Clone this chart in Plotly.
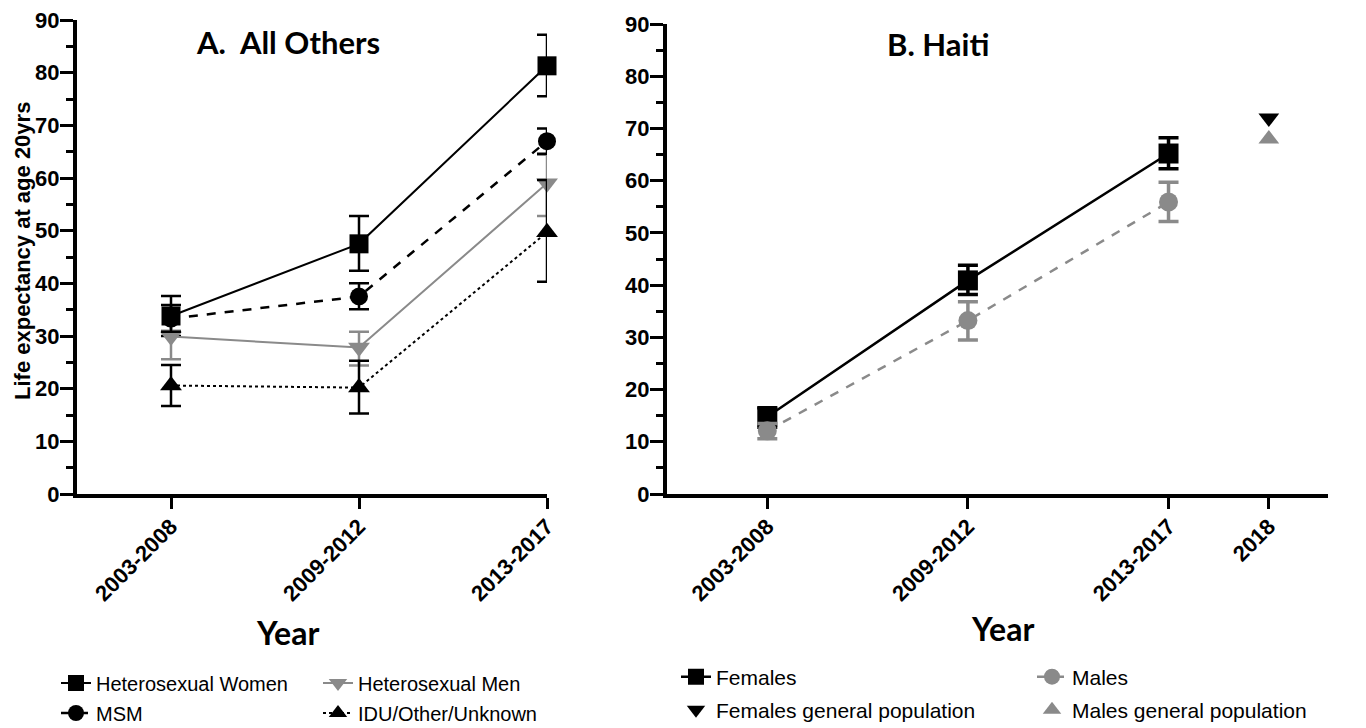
import plotly.graph_objects as go

# ---------------- data ----------------
periods_a = ["2003-2008", "2009-2012", "2013-2017"]
periods_b = ["2003-2008", "2009-2012", "2013-2017", "2018"]

hw = [33.8, 47.5, 81.3]
hw_lo = [30.0, 42.4, 75.5]
hw_hi = [37.6, 52.8, 87.2]

msm = [33.3, 37.5, 67.0]
msm_lo = [30.8, 35.1, 64.6]
msm_hi = [35.9, 40.0, 69.4]

hm = [29.9, 27.8, 59.0]
hm_lo = [25.6, 24.4, 52.8]
hm_hi = [31.0, 30.8, 64.4]

idu = [20.6, 20.2, 49.7]
idu_lo = [16.7, 15.3, 40.3]
idu_hi = [24.5, 25.3, 59.6]

fem = [14.8, 40.9, 65.2]
fem_lo = [12.8, 38.2, 62.3]
fem_hi = [16.5, 43.8, 68.2]

mal = [12.1, 33.2, 55.9]
mal_lo = [10.6, 29.5, 52.2]
mal_hi = [13.5, 36.8, 59.7]

fem_gen_2018 = [72.0]
mal_gen_2018 = [68.0]

# ---------------- geometry helpers ----------------
OFF = 8                      # page body margin of the html page
W, H = 1366 - OFF, 728 - OFF  # figure size


def px(xp):
    return (xp - OFF) / W


def py(yp):
    return 1 - (yp - OFF) / H


GRAY = "#8a8a8a"
pos_a = {p: i for i, p in enumerate(periods_a)}
pos_b = {"2003-2008": 0, "2009-2012": 1, "2013-2017": 2, "2018": 2.5}


def err(v, lo, hi, color, thick=2.5):
    return dict(type="data", symmetric=False,
                array=[h - x for h, x in zip(hi, v)],
                arrayminus=[x - l for x, l in zip(v, lo)],
                color=color, thickness=thick, width=10)


fig = go.Figure()

xa = [pos_a[p] for p in periods_a]
xb = [pos_b[p] for p in periods_b[:3]]

series_a = [
    ("Heterosexual Women", hw, hw_lo, hw_hi, "black", "solid", 2, "square", 19, "legend"),
    ("Heterosexual Men", hm, hm_lo, hm_hi, GRAY, "solid", 2, "triangle-down", 19, "legend2"),
    ("MSM", msm, msm_lo, msm_hi, "black", "dash", 2.5, "circle", 18, "legend3"),
    ("IDU/Other/Unknown", idu, idu_lo, idu_hi, "black", "dot", 2, "triangle-up", 19, "legend4"),
]
for name, v, lo, hi, col, dash, lw, sym, ms, lg in series_a:
    fig.add_trace(go.Scatter(
        x=xa, y=v, name=name, mode="lines+markers",
        line=dict(color=col, dash=dash, width=lw),
        marker=dict(symbol=sym, size=ms, color=col),
        error_y=err(v, lo, hi, col),
        cliponaxis=False, legend=lg, xaxis="x", yaxis="y"))

series_b = [
    ("Females", fem, fem_lo, fem_hi, "black", "solid", 2.5, "square", 20, "legend5"),
    ("Males", mal, mal_lo, mal_hi, GRAY, "dash", 2.5, "circle", 19, "legend6"),
]
for name, v, lo, hi, col, dash, lw, sym, ms, lg in series_b:
    fig.add_trace(go.Scatter(
        x=xb, y=v, name=name, mode="lines+markers",
        line=dict(color=col, dash=dash, width=lw),
        marker=dict(symbol=sym, size=ms, color=col),
        error_y=err(v, lo, hi, col, 3.5),
        cliponaxis=False, legend=lg, xaxis="x2", yaxis="y2"))

fig.add_trace(go.Scatter(
    x=[pos_b["2018"]], y=fem_gen_2018, name="Females general population",
    mode="markers", marker=dict(symbol="triangle-down", size=18, color="black"),
    cliponaxis=False, legend="legend7", xaxis="x2", yaxis="y2"))
fig.add_trace(go.Scatter(
    x=[pos_b["2018"]], y=mal_gen_2018, name="Males general population",
    mode="markers", marker=dict(symbol="triangle-up", size=18, color=GRAY),
    cliponaxis=False, legend="legend8", xaxis="x2", yaxis="y2"))

# ---------------- axes ----------------
tickfont = dict(family="Liberation Sans, Arial, sans-serif", size=22, color="black", weight="bold")
common_x = dict(showline=True, linewidth=4, linecolor="black", ticks="outside",
                ticklen=11, tickwidth=3, tickcolor="black", tickangle=-45,
                ticklabelstandoff=-4, automargin=False,
                showgrid=False, zeroline=False, tickfont=tickfont)
common_y = dict(showline=True, linewidth=4, linecolor="black", ticks="outside",
                ticklen=13, tickwidth=3, tickcolor="black", range=[0, 90],
                tick0=0, dtick=10, showgrid=False, zeroline=False, tickfont=tickfont,
                automargin=False, ticklabeloverflow="allow", ticklabelstandoff=-4,
                minor=dict(dtick=5, ticks="outside", ticklen=7, tickwidth=3,
                           tickcolor="black", showgrid=False))

fig.update_layout(
    xaxis=dict(domain=[px(77), px(547)], range=[-0.5, 2.0],
               tickvals=xa, ticktext=periods_a, anchor="y", **common_x),
    yaxis=dict(domain=[py(494), py(20)], anchor="x", **common_y),
    xaxis2=dict(domain=[px(667), px(1328)], range=[-0.5, 2.795],
                tickvals=[pos_b[p] for p in periods_b], ticktext=periods_b,
                anchor="y2", **common_x),
    yaxis2=dict(domain=[py(494), py(24)], anchor="x2", **common_y),
)

# ---------------- legends ----------------
lf_a = dict(family="Liberation Sans, Arial, sans-serif", size=20, color="black")
lf_b = dict(family="Liberation Sans, Arial, sans-serif", size=21, color="black")


def leg(text_x, yc, font):
    # legend text starts ~40px right of the legend's left edge
    return dict(x=px(text_x - 40), y=py(yc), xanchor="left", yanchor="middle",
                xref="paper", yref="paper", font=font, bgcolor="rgba(0,0,0,0)",
                itemsizing="trace")


fig.update_layout(
    legend=leg(96, 683, lf_a),
    legend2=leg(358, 683, lf_a),
    legend3=leg(96, 713, lf_a),
    legend4=leg(358, 713, lf_a),
    legend5=leg(716, 677, lf_b),
    legend6=leg(1072, 677, lf_b),
    legend7=leg(716, 710, lf_b),
    legend8=leg(1072, 710, lf_b),
)

# ---------------- text ----------------
title_font = dict(family="Lato, Open Sans, sans-serif", size=31, color="black", weight="bold")
year_font = dict(family="Lato, Open Sans, sans-serif", size=32, color="black", weight="bold")
ann = [
    dict(text="A.  All Others", x=px(288), y=py(42), font=title_font),
    dict(text="B. Haiti", x=px(938), y=py(44), font=title_font),
    dict(text="Year", x=px(287), y=py(632), font=year_font),
    dict(text="Year", x=px(1003), y=py(628), font=year_font),
    dict(text="Life expectancy at age 20yrs", x=px(22), y=py(251), textangle=-90,
         font=dict(family="Liberation Sans, Arial, sans-serif", size=22, color="black", weight="bold")),
]
for a in ann:
    a.update(xref="paper", yref="paper", xanchor="center", yanchor="middle", showarrow=False)
fig.update_layout(annotations=ann)

fig.update_layout(width=W, height=H, margin=dict(l=0, r=0, t=0, b=0, autoexpand=False),
                  plot_bgcolor="white", paper_bgcolor="white", showlegend=True)

fig.write_html("out.html")
